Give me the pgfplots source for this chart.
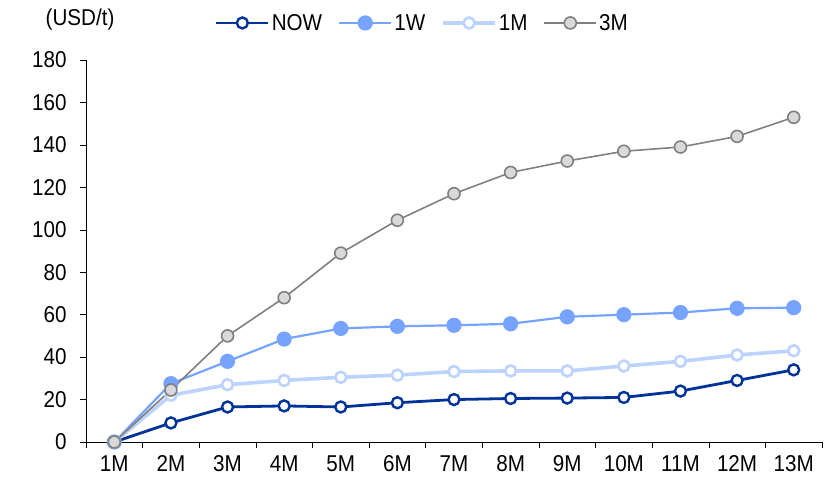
\documentclass[border=0pt]{standalone}
\usepackage{fontspec}
\setmainfont{Liberation Sans}[FakeStretch=0.9]
\usepackage{pgfplots}
\pgfplotsset{compat=1.18}
\definecolor{colnow}{HTML}{003399}
\definecolor{colw}{HTML}{76A3FF}
\definecolor{colm}{HTML}{BDD3FF}
\definecolor{colg}{HTML}{808080}
\definecolor{colgf}{HTML}{D9D9D9}
\pgfplotstableread{
x now w m t
1 0 0 0 0
2 9 27.5 22 24.5
3 16.5 38 27 50
4 17 48.5 29 68
5 16.5 53.5 30.5 89
6 18.5 54.5 31.5 104.5
7 20 55 33.2 117
8 20.5 55.7 33.5 127
9 20.7 59 33.5 132.4
10 21 60 35.8 137
11 24 61 38 139
12 29 63 41 144
13 34 63.3 43 153
}\data
\begin{document}
\begin{tikzpicture}
\path[use as bounding box] (-86bp,-36bp) rectangle (748bp,442bp);
\begin{axis}[
  at={(0,0)}, anchor=south west,
  scale only axis, width=736bp, height=382bp,
  xmin=0.5, xmax=13.5, ymin=0, ymax=180,
  axis x line*=bottom, axis y line*=left,
  xtick={1,...,13},
  xticklabels={1M,2M,3M,4M,5M,6M,7M,8M,9M,10M,11M,12M,13M},
  minor xtick={0.5,1.5,...,13.5},
  ytick={0,20,...,180},
  tick align=outside,
  major tick length=6bp, minor tick length=6bp,
  x tick style={draw=none},
  minor x tick style={draw=black, thin},
  y tick style={black, thin},
  axis line style={black, thin},
  ticklabel style={font=\fontsize{23}{25}\selectfont},
  /pgf/number format/assume math mode=true,
  yticklabel style={xshift=-10bp},
  xticklabel style={yshift=-4bp},
  legend style={at={(0.457,1.097)}, anchor=center, draw=none, fill=none,
    legend columns=4, font=\fontsize{23}{25}\selectfont,
    /tikz/every even column/.append style={column sep=14bp}},
  legend image code/.code={
    \draw[#1, mark=none] (0bp,0bp) -- (52bp,0bp);
    \draw[#1, only marks] plot coordinates {(26bp,0bp)};
  },
  clip=false,
]
\addplot[colnow, line width=2.8bp, mark=*, mark size=5.5bp, mark options={fill=white, line width=2.4bp}] table[x=x,y=now]{\data};
\addlegendentry{NOW}
\addplot[colw, line width=2.2bp, mark=*, mark size=6.5bp, mark options={fill=colw}] table[x=x,y=w]{\data};
\addlegendentry{1W}
\addplot[colm, line width=3.6bp, mark=*, mark size=5.5bp, mark options={fill=white, line width=2.6bp}] table[x=x,y=m]{\data};
\addlegendentry{1M}
\addplot[colg, line width=1.6bp, mark=*, mark size=6bp, mark options={fill=colgf, line width=1.6bp}] table[x=x,y=t]{\data};
\addlegendentry{3M}
\node[font=\fontsize{23}{25}\selectfont] at (rel axis cs:{-6/736},{422/382}) {(USD/t)};
\end{axis}
\end{tikzpicture}
\end{document}
